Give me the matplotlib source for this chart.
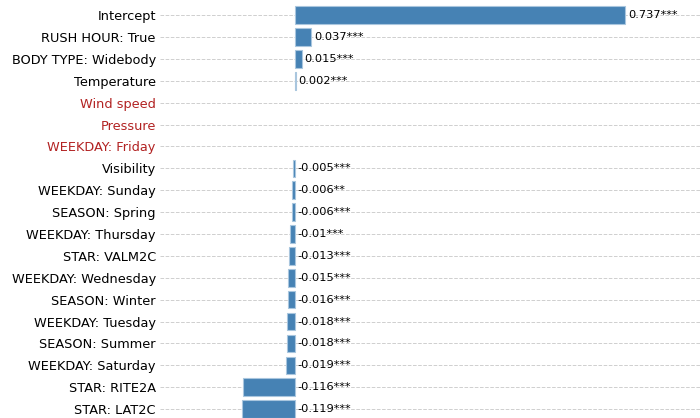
import matplotlib
matplotlib.use("Agg")
import matplotlib.pyplot as plt

terms = ["Intercept", "RUSH HOUR: True", "BODY TYPE: Widebody", "Temperature",
         "Wind speed", "Pressure", "WEEKDAY: Friday", "Visibility",
         "WEEKDAY: Sunday", "SEASON: Spring", "WEEKDAY: Thursday", "STAR: VALM2C",
         "WEEKDAY: Wednesday", "SEASON: Winter", "WEEKDAY: Tuesday", "SEASON: Summer",
         "WEEKDAY: Saturday", "STAR: RITE2A", "STAR: LAT2C"]
coefs = [0.737, 0.037, 0.015, 0.002, 0.0, 0.0, 0.0, -0.005, -0.006, -0.006,
         -0.01, -0.013, -0.015, -0.016, -0.018, -0.018, -0.019, -0.116, -0.119]
stars = ["***", "***", "***", "***", "", "", "", "***", "**", "***",
         "***", "***", "***", "***", "***", "***", "***", "***", "***"]
significant = [True, True, True, True, False, False, False, True, True, True,
               True, True, True, True, True, True, True, True, True]

fig = plt.figure(figsize=(7, 4.18), dpi=100)
ax = fig.add_axes([0.2286, -0.005, 0.7714, 0.995])

pos = list(range(len(terms)))
for i in pos:
    if significant[i]:
        ax.barh(i, coefs[i], height=0.8, color="steelblue",
                edgecolor="#a9c6de", linewidth=0.8, zorder=2)
        # label sits past the bar end for positives, right of zero for negatives
        xt = coefs[i] if coefs[i] > 0 else 0
        ax.annotate(f"{coefs[i]:g}{stars[i]}", (xt, i), xytext=(2, 0),
                    textcoords="offset points", va="center", ha="left",
                    fontsize=8.2)

ax.set_yticks(pos)
ax.set_yticklabels(terms, fontsize=9.3)
for lbl, sig in zip(ax.get_yticklabels(), significant):
    if not sig:
        lbl.set_color("#b22222")
ax.tick_params(axis="y", length=0, pad=3)
ax.set_xticks([])
ax.set_xlim(-0.301, 0.904)
ax.set_ylim(18.5, -0.5)
ax.grid(axis="y", linestyle="--", color="#cfcfcf", linewidth=0.7, zorder=0)
for s in ax.spines.values():
    s.set_visible(False)

fig.savefig("out.png", dpi=100)
